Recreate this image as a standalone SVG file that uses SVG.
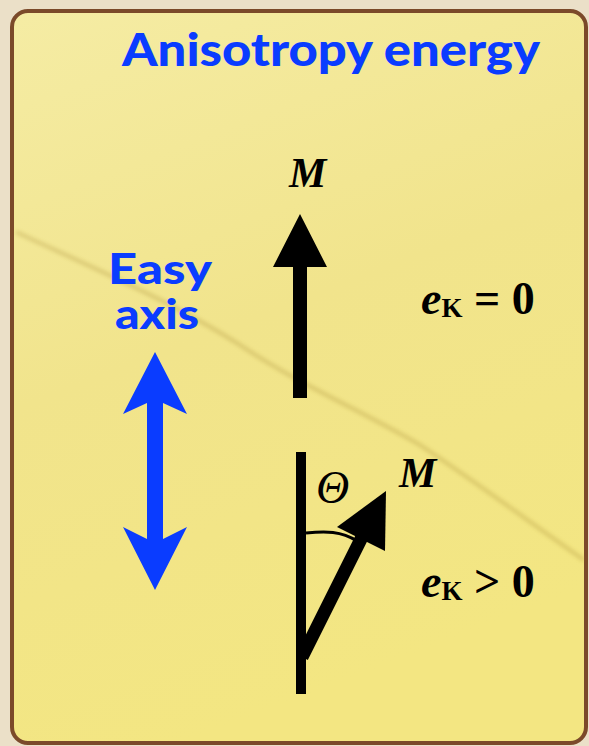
<svg xmlns="http://www.w3.org/2000/svg" width="589" height="746" viewBox="0 0 589 746">
  <defs>
    <linearGradient id="cardFill" x1="0" y1="0" x2="0.3" y2="1">
      <stop offset="0" stop-color="#f5eca4"/>
      <stop offset="0.5" stop-color="#f1e48c"/>
      <stop offset="1" stop-color="#f3e682"/>
    </linearGradient>
    <filter id="blur" x="-10%" y="-10%" width="120%" height="120%">
      <feGaussianBlur stdDeviation="2"/>
    </filter>
    <style>
      .blue { fill: #0a3cff; }
      .blueText { fill: #0a3cff; font-family: "Comic Sans MS", "Lato", "Noto Sans", sans-serif; font-weight: 900; }
      .ink { fill: #000000; }
      .serif { font-family: "Liberation Serif", "Times New Roman", serif; fill: #000000; }
    </style>
  </defs>

  <!-- page background -->
  <rect x="0" y="0" width="589" height="746" fill="#ebe0c8"/>

  <!-- card -->
  <g id="card">
    <rect x="12" y="11" width="574" height="732" rx="16" ry="16" fill="url(#cardFill)" stroke="#7b4a2a" stroke-width="4"/>
    <path d="M16,232 C80,262 170,300 240,345 C300,385 360,410 420,445 C470,478 520,515 584,560" fill="none" stroke="#9a7a20" stroke-width="3" opacity="0.35" filter="url(#blur)"/>
  </g>

  <!-- title -->
  <g id="title">
    <text class="blueText" x="122" y="66" font-size="45" textLength="418" lengthAdjust="spacingAndGlyphs">Anisotropy energy</text>
  </g>

  <!-- easy axis label -->
  <g id="easy-axis-label">
    <text class="blueText" x="108" y="284" font-size="42" textLength="104" lengthAdjust="spacingAndGlyphs">Easy</text>
    <text class="blueText" x="115" y="329" font-size="42" textLength="84" lengthAdjust="spacingAndGlyphs">axis</text>
  </g>

  <!-- easy axis double arrow -->
  <g id="easy-axis-arrow">
    <polygon class="blue" points="155,352 187,414 163,403 163,539 187,527 155,590 123,527 147,539 147,403 123,414"/>
  </g>

  <!-- upper magnetization (aligned) -->
  <g id="m-aligned">
    <polygon class="ink" points="300,214 327,267 307,267 307,398 293,398 293,267 273,267"/>
    <text class="serif" x="289" y="187" font-size="42" font-weight="bold" font-style="italic">M</text>
  </g>

  <g id="ek-zero">
    <text class="serif" x="421" y="314" font-size="46" font-weight="bold"><tspan font-style="italic">e</tspan><tspan font-size="27" dy="3">K</tspan><tspan dy="-3"> = 0</tspan></text>
  </g>

  <!-- lower magnetization (tilted) -->
  <g id="m-tilted">
    <rect class="ink" x="296" y="452" width="10" height="242"/>
    <line x1="302" y1="657" x2="362" y2="537" stroke="#000" stroke-width="13"/>
    <polygon class="ink" points="386,491 385,551 337,527"/>
    <path d="M306,533 C326,531 341,531 357,541" fill="none" stroke="#000" stroke-width="3"/>
    <text class="serif" x="316" y="503" font-size="46" font-style="italic">Θ</text>
    <text class="serif" x="399" y="487" font-size="42" font-weight="bold" font-style="italic">M</text>
  </g>

  <g id="ek-positive">
    <text class="serif" x="421" y="597" font-size="46" font-weight="bold"><tspan font-style="italic">e</tspan><tspan font-size="27" dy="3">K</tspan><tspan dy="-3"> &gt; 0</tspan></text>
  </g>
</svg>
